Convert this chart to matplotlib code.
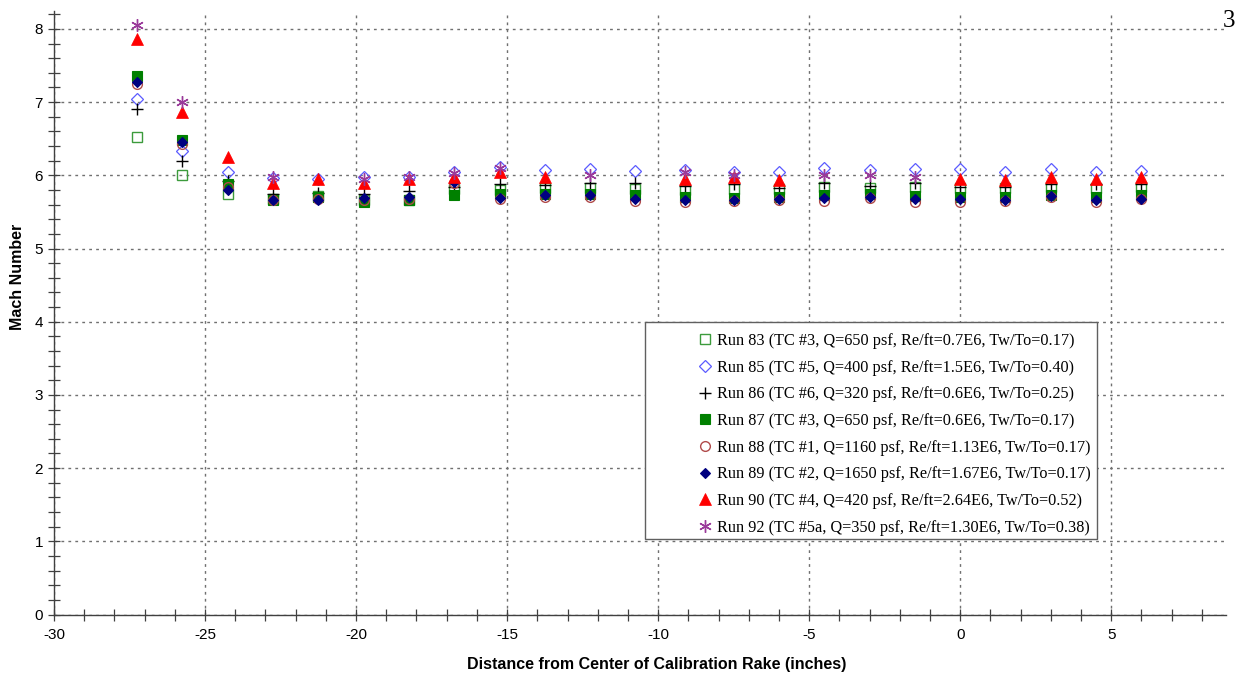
import numpy as np
import matplotlib
matplotlib.use("Agg")
import matplotlib.pyplot as plt
from matplotlib.patches import Rectangle

plt.rcParams['axes.unicode_minus'] = False

nan = np.nan
x_pos = [-27.25, -25.75, -24.25, -22.75, -21.25, -19.75, -18.25, -16.75, -15.25,
         -13.75, -12.25, -10.75, -9.1, -7.5, -6.0, -4.5, -3.0, -1.5, 0.0, 1.5,
         3.0, 4.5, 6.0]

run83 = [6.52, 6.00, 5.75, 5.67, 5.72, 5.66, 5.66, 5.81, 5.80, 5.82, 5.82, 5.81,
         5.80, 5.81, 5.81, 5.84, 5.82, 5.84, 5.83, 5.82, 5.84, 5.82, 5.84]
run85 = [7.04, 6.33, 6.05, 5.96, 5.95, 5.98, 5.97, 6.04, 6.11, 6.07, 6.08, 6.06,
         6.07, 6.04, 6.04, 6.10, 6.07, 6.09, 6.09, 6.04, 6.08, 6.05, 6.06]
run86 = [6.90, 6.19, 5.92, 5.75, 5.76, 5.75, 5.78, 5.84, 5.88, 5.87, 5.89, 5.89,
         5.85, 5.88, 5.82, 5.90, 5.85, 5.90, 5.84, 5.84, 5.88, 5.88, 5.88]
run87 = [7.36, 6.48, 5.88, 5.66, 5.70, 5.64, 5.66, 5.73, 5.75, 5.75, 5.75, 5.73,
         5.70, 5.69, 5.70, 5.73, 5.75, 5.72, 5.71, 5.70, 5.73, 5.70, 5.73]
run88 = [7.25, 6.43, 5.84, 5.66, 5.67, 5.66, 5.68, 5.90, 5.67, 5.71, 5.71, 5.65,
         5.64, 5.65, 5.66, 5.65, 5.69, 5.64, 5.63, 5.65, 5.71, 5.64, 5.67]
run89 = [7.27, 6.45, 5.80, 5.66, 5.66, 5.69, 5.70, 5.91, 5.69, 5.73, 5.73, 5.68,
         5.66, 5.66, 5.67, 5.69, 5.70, 5.67, 5.68, 5.66, 5.72, 5.66, 5.68]
run90 = [7.86, 6.86, 6.25, 5.90, 5.95, 5.90, 5.95, 5.98, 6.05, 5.97, nan, nan,
         5.95, 5.98, 5.93, nan, nan, nan, 5.95, 5.94, 5.98, 5.95, 5.97]
run92 = [8.05, 7.00, nan, 5.97, nan, 5.95, 5.98, 6.03, 6.10, nan, 6.00, nan,
         6.04, 6.00, nan, 6.00, 6.01, 5.97, nan, nan, nan, nan, nan]

labels = [
    "Run 83 (TC #3, Q=650 psf, Re/ft=0.7E6, Tw/To=0.17)",
    "Run 85 (TC #5, Q=400 psf, Re/ft=1.5E6, Tw/To=0.40)",
    "Run 86 (TC #6, Q=320 psf, Re/ft=0.6E6, Tw/To=0.25)",
    "Run 87 (TC #3, Q=650 psf, Re/ft=0.6E6, Tw/To=0.17)",
    "Run 88 (TC #1, Q=1160 psf, Re/ft=1.13E6, Tw/To=0.17)",
    "Run 89 (TC #2, Q=1650 psf, Re/ft=1.67E6, Tw/To=0.17)",
    "Run 90 (TC #4, Q=420 psf, Re/ft=2.64E6, Tw/To=0.52)",
    "Run 92 (TC #5a, Q=350 psf, Re/ft=1.30E6, Tw/To=0.38)",
]
series = [run83, run85, run86, run87, run88, run89, run90, run92]
styles = [
    dict(marker='s', ms=6.5, mfc='none', mec='#3c9b3c', mew=1.0),
    dict(marker='D', ms=5.8, mfc='none', mec='#5b5bff', mew=0.9),
    dict(marker='+', ms=8.5, mfc='none', mec='#000000', mew=1.0),
    dict(marker='s', ms=6.5, mfc='#008000', mec='#008000', mew=0.8),
    dict(marker='o', ms=7.0, mfc='none', mec='#b04a4a', mew=1.0),
    dict(marker='D', ms=5.5, mfc='#000080', mec='#000080', mew=0.8),
    dict(marker='^', ms=8.0, mfc='#ff0000', mec='#ff0000', mew=0.5),
    dict(marker=(6, 2, 0), ms=9.0, mfc='none', mec='#9a3a9a', mew=1.0),
]

W, H = 1247, 679
fig = plt.figure(figsize=(W / 100, H / 100), dpi=100)
ax_l, ax_r, ax_b, ax_t = 54, 1226, 614.5, 10.6
ax = fig.add_axes([ax_l / W, (H - ax_b) / H, (ax_r - ax_l) / W, (ax_b - ax_t) / H])

handles = []
for ys, st, lab in zip(series, styles, labels):
    h, = ax.plot(x_pos, ys, linestyle='none', label=lab, **st)
    handles.append(h)

ax.set_xlim(-30, 8.8)
ax.set_ylim(0, 8.25)
ax.set_xticks(np.arange(-30, 6, 5))
ax.set_yticks(np.arange(0, 9, 1))
ax.set_xticks(np.arange(-30, 9, 1), minor=True)
ax.set_yticks(np.arange(0, 8.25, 0.2), minor=True)
for s in ['top', 'right']:
    ax.spines[s].set_visible(False)
for s in ['left', 'bottom']:
    ax.spines[s].set_color('#404040')
    ax.spines[s].set_linewidth(1.0)
ax.tick_params(which='both', direction='inout', length=8, width=0.9, color='#404040',
               labelsize=11, pad=4)
ax.tick_params(axis='x', which='major', pad=6)
ax.grid(True, which='major', linestyle=(0, (2, 3)), color='#707070', linewidth=1.0)
ax.set_axisbelow(True)

for t in ax.get_xticklabels() + ax.get_yticklabels():
    t.set_family('Liberation Sans')

ax.set_xlabel("Distance from Center of Calibration Rake (inches)", fontsize=11.5,
              fontweight='bold', family='Liberation Sans')
ax.set_ylabel("Mach Number", fontsize=11.5, fontweight='bold', family='Liberation Sans')
ax.xaxis.set_label_coords((657 - ax_l) / (ax_r - ax_l), -(664 - ax_b) / (ax_b - ax_t))
ax.yaxis.set_label_coords((18 - ax_l) / (ax_r - ax_l), (ax_b - 277) / (ax_b - ax_t))
ax.xaxis.label.set_verticalalignment('center')
ax.yaxis.label.set_verticalalignment('center')

# legend box
bx0, by0, bx1, by1 = 645, 322, 1097, 539
fig.patches.append(Rectangle((bx0 / W, (H - by1) / H), (bx1 - bx0) / W, (by1 - by0) / H,
                             transform=fig.transFigure, facecolor='white',
                             edgecolor='#606060', linewidth=1.0, zorder=3))
leg = fig.legend(handles=handles, loc='upper left',
                 bbox_to_anchor=(699 / W, (H - 333) / H), frameon=False,
                 prop=dict(family='Liberation Serif', size=11.7),
                 handlelength=0.8, handletextpad=0.3, labelspacing=0.655,
                 borderaxespad=0, borderpad=0, numpoints=1)
leg.set_zorder(4)

fig.text(1229 / W, (H - 21) / H, "3", fontsize=18, family='Liberation Serif',
         ha='center', va='center')

fig.savefig("out.png", dpi=100)
